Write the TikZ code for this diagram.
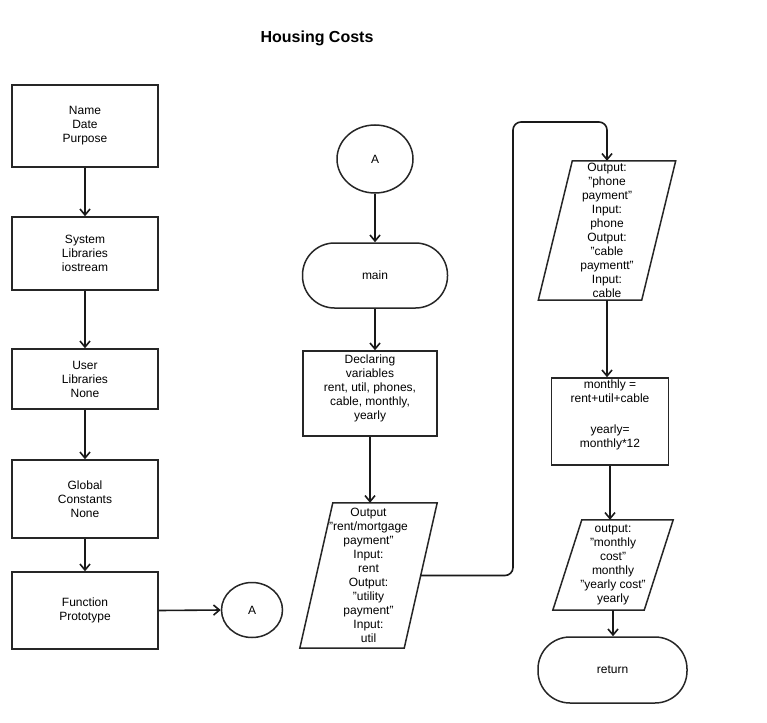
\documentclass[tikz,border=0pt]{standalone}
\usepackage{fontspec}
\setmainfont{Liberation Sans}
\usetikzlibrary{arrows.meta,shapes.geometric}
\newcommand{\qq}{\char34\relax}
\begin{document}
\begin{tikzpicture}[x=1pt,y=-1pt,
  txt/.style={font=\fontsize{12}{14}\selectfont, align=center, text=black},
  shp/.style={draw=black!85, line width=1.5pt},
  box/.style={shp, txt, rectangle, inner sep=0pt},
  term/.style={shp, txt, rectangle, rounded corners=32pt, inner sep=0pt},
  conn/.style={draw=black!85, ellipse, line width=1.5pt, txt, inner sep=0pt},
  ghost/.style={rectangle, inner sep=0pt, txt},
  arr/.style={line width=1.6pt, draw=black!90, -{Straight Barb[length=6pt,width=10pt]}}
]
\useasboundingbox (0,0) rectangle (767,722);
\fill[white] (0,0) rectangle (767,722);

\node[font=\bfseries\fontsize{16}{18}\selectfont] (title) at (317,38) {Housing Costs};

% left column
\node[box, minimum width=146, minimum height=82] (b1) at (85,126) {Name\\Date\\Purpose};
\node[box, minimum width=146, minimum height=73] (b2) at (85,253.5) {System\\Libraries\\iostream};
\node[box, minimum width=146, minimum height=60] (b3) at (85,379) {User\\Libraries\\None};
\node[box, minimum width=146, minimum height=78] (b4) at (85,499) {Global\\Constants\\None};
\node[box, minimum width=146, minimum height=77] (b5) at (85,610.5) {Function\\Prototype};
\node[conn, minimum width=61, minimum height=55] (a2) at (252,610) {A};

% middle column
\node[conn, minimum width=76, minimum height=68] (a1) at (375,159) {A};
\node[term, minimum width=145, minimum height=65] (main) at (375,275.5) {main};
\node[box, minimum width=134, minimum height=85,
  label={[txt, yshift=5.5pt]center:{Declaring\\variables\\rent, util, phones,\\cable, monthly,\\yearly}}] (decl) at (370,393.5) {};
\node[ghost, minimum width=137, minimum height=145] (p1) at (368.5,575.5)
  {Output\\\qq rent/mortgage\\payment\qq\\Input:\\rent\\Output:\\\qq utility\\payment\qq\\Input:\\util};
\draw[shp] ([xshift=33pt]p1.north west) -- (p1.north east) -- ([xshift=-33pt]p1.south east) -- (p1.south west) -- cycle;

% right column
\node[ghost, minimum width=137, minimum height=139] (p2) at (607,230.5)
  {Output:\\\qq phone\\payment\qq\\Input:\\phone\\Output:\\\qq cable\\paymentt\qq\\Input:\\cable};
\draw[shp] ([xshift=34pt]p2.north west) -- (p2.north east) -- ([xshift=-34pt]p2.south east) -- (p2.south west) -- cycle;
\node[box, minimum width=117, minimum height=87,
  label={[txt, yshift=7pt]center:{monthly =\\rent+util+cable\\[3pt]\mbox{}\\yearly=\\monthly*12}}] (calc) at (610,421.5) {};
\node[ghost, minimum width=120, minimum height=90] (p3) at (613,565)
  {output:\\\qq monthly\\cost\qq\\monthly\\\qq yearly cost\qq\\yearly};
\draw[shp] ([xshift=29pt]p3.north west) -- (p3.north east) -- ([xshift=-29pt]p3.south east) -- (p3.south west) -- cycle;
\node[term, minimum width=149, minimum height=66] (ret) at (612.5,670) {return};

% connectors
\draw[arr] (b1) -- (b2);
\draw[arr] (b2) -- (b3);
\draw[arr] (b3) -- (b4);
\draw[arr] (b4) -- (b5);
\draw[arr] (b5.east) -- (a2.west);
\draw[arr] (a1.south) -- (main.north);
\draw[arr] (main.south) -- (main.south |- decl.north);
\draw[arr] (decl.south) -- (decl.south |- p1.north);
\coordinate (r1) at (513,122);
\draw[arr, rounded corners=8pt] ([xshift=-16.5pt]p1.east) -| (r1) -| (p2.north);
\draw[arr] (p2.south) -- (p2.south |- calc.north);
\draw[arr] (calc.south) -- (calc.south |- p3.north);
\draw[arr] (p3.south) -- (p3.south |- ret.north);
\end{tikzpicture}
\end{document}
